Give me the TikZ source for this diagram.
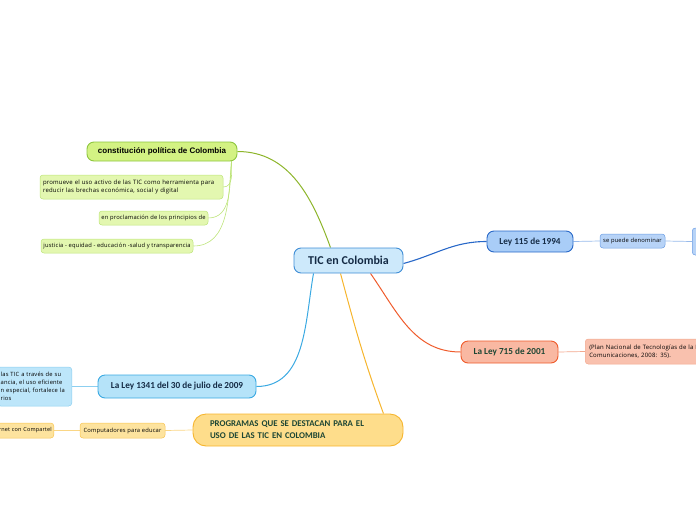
\documentclass[tikz,border=0pt]{standalone}
\usepackage{fontspec}
\setmainfont{Carlito}
\newfontfamily\arialfont{Liberation Sans}
\newfontfamily\smallfont[LetterSpace=3]{Open Sans}
\usetikzlibrary{backgrounds}

\definecolor{ticfill}{HTML}{CDE9FB}
\definecolor{ticline}{HTML}{3F8DD6}
\definecolor{tictext}{HTML}{152B45}
\definecolor{grnfill}{HTML}{D3F283}
\definecolor{grnline}{HTML}{8EC63F}
\definecolor{grnsub}{HTML}{E3F7B0}
\definecolor{grnsubline}{HTML}{BDE47A}
\definecolor{grnedge}{HTML}{8DB52B}
\definecolor{bluefill}{HTML}{A9CDF7}
\definecolor{blueline}{HTML}{2868C8}
\definecolor{bluesub}{HTML}{B7D3F7}
\definecolor{bluesubline}{HTML}{6B9DE3}
\definecolor{redfill}{HTML}{F9B8A2}
\definecolor{redline}{HTML}{EF5B2B}
\definecolor{redsub}{HTML}{F9C1AE}
\definecolor{redsubline}{HTML}{F3A88E}
\definecolor{cyanfill}{HTML}{B5E3F9}
\definecolor{cyanline}{HTML}{3AA9E2}
\definecolor{cyansub}{HTML}{BDE6FA}
\definecolor{cyansubline}{HTML}{8CCFF0}
\definecolor{yelfill}{HTML}{FEDD8B}
\definecolor{yelline}{HTML}{F6B52E}
\definecolor{yelsub}{HTML}{FDE39E}
\definecolor{yelsubline}{HTML}{F8C451}
\definecolor{progtext}{HTML}{1D4634}

\begin{document}
\begin{tikzpicture}[x=1pt,y=-1pt,
    topic/.style={rounded corners=7pt,line width=0.9pt,inner sep=0pt,
        font=\bfseries\fontsize{9.2}{10}\selectfont,text=tictext},
    sub/.style={rounded corners=3pt,line width=0.5pt,inner sep=0pt,
        font=\smallfont\fontsize{5.8}{8}\selectfont,text=black}]
    \useasboundingbox (0,0) rectangle (696,520);
    \clip (0,0) rectangle (696,520);

    \node[topic,fill=ticfill,draw=ticline,minimum width=109,minimum height=25,font=\bfseries\fontsize{12}{13}\selectfont] at (348.5,260.5) (tic) {TIC en Colombia};

    % constitucion
    \node[topic,fill=grnfill,draw=grnline,minimum width=150,minimum height=19,font=\arialfont\bfseries\fontsize{8}{9}\selectfont,text=black] at (162,151.5) (const) {constitución política de Colombia};
    \node[sub,fill=grnsub,draw=grnsubline,minimum width=183,minimum height=24,align=left,text width=177,font=\smallfont\fontsize{6}{8}\selectfont] at (131.5,187) (promueve) {promueve el uso activo de las TIC como herramienta para\\reducir las brechas económica, social y digital};
    \node[sub,fill=grnsub,draw=grnsubline,minimum width=109,minimum height=14] at (153.5,218) (proclama) {en proclamación de los principios de};
    \node[sub,fill=grnsub,draw=grnsubline,minimum width=152,minimum height=14] at (117,246) (justicia) {justicia - equidad - educación -salud y transparencia};

    % ley 115
    \node[topic,fill=bluefill,draw=blueline,minimum width=86,minimum height=21] at (530,241.5) (ley115) {Ley 115 de 1994};
    \node[sub,fill=bluesub,draw=bluesubline,minimum width=65,minimum height=14] at (632.5,241) (denominar) {se puede denominar};
    \node[sub,fill=bluesub,draw=bluesubline,minimum width=40,minimum height=27,anchor=west] at (692,241.5) (ley115end) {};

    % ley 715
    \node[topic,fill=redfill,draw=redline,minimum width=97,minimum height=22,text=progtext] at (509.5,352) (ley715) {La Ley 715 de 2001};
    \node[sub,fill=redsub,draw=redsubline,minimum height=25,anchor=west,align=left,text width=180,inner xsep=4pt,font=\smallfont\fontsize{6}{8}\selectfont] at (585,351.5) (plan) {(Plan Nacional de Tecnologías de la Información y las\\Comunicaciones, 2008: 35).};

    % ley 1341
    \node[topic,fill=cyanfill,draw=cyanline,minimum width=158,minimum height=23] at (177,386.5) (ley1341) {La Ley 1341 del 30 de julio de 2009};
    \node[sub,fill=cyansub,draw=cyansubline,minimum height=39,anchor=east,align=left,text width=68,inner xsep=3pt] at (72,386.5) (ley1341sub) {las TIC a través de su\\ancia, el uso eficiente\\n especial, fortalece la\\rios};

    % programas
    \node[topic,fill=yelfill,draw=yelline,rounded corners=13pt,minimum width=210,minimum height=32,align=left,text width=176,text=progtext,font=\bfseries\fontsize{8.8}{12}\selectfont] at (298,430) (prog) {PROGRAMAS QUE SE DESTACAN PARA EL\\USO DE LAS TIC EN COLOMBIA};
    \node[sub,fill=yelsub,draw=yelsubline,minimum width=85,minimum height=15] at (122.5,430.5) (compu) {Computadores para educar};
    \node[sub,fill=yelsub,draw=yelsubline,minimum height=15,anchor=east,align=right,text width=70,inner xsep=2pt,font=\smallfont\fontsize{5.5}{8}\selectfont] at (54,430.5) (compartel) {rnet con Compartel};

    \begin{scope}[on background layer]
        \draw[grnedge,line width=1pt] ([xshift=-18pt]tic.north) to[out=110,in=0] (const.east);
        \draw[grnsubline,line width=0.6pt] ([xshift=-6pt]const.south east) to[out=-90,in=0] (promueve.east);
        \draw[grnsubline,line width=0.6pt] ([xshift=-6pt]const.south east) to[out=-95,in=0] (proclama.east);
        \draw[grnsubline,line width=0.6pt] ([xshift=-6pt]const.south east) to[out=-95,in=0] (justicia.east);

        \draw[blueline,line width=1.1pt] ([yshift=-3pt]tic.east) to[out=15,in=180] (ley115.west);
        \draw[bluesubline!70,line width=0.7pt] (ley115.east) -- (denominar.west);
        \draw[bluesubline!70,line width=0.7pt] (denominar.east) -- (ley115end.west);

        \draw[redline,line width=1pt] ([xshift=22pt]tic.south) to[out=-55,in=180] (ley715.west);
        \draw[redsubline,line width=0.7pt] (ley715.east) -- (plan.west);

        \draw[cyanline,line width=1pt] ([xshift=-35pt]tic.south) to[out=-100,in=0] (ley1341.east);
        \draw[cyansubline,line width=0.7pt] (ley1341.west) -- (ley1341sub.east);

        \draw[yelline,line width=1pt] ([xshift=-8pt]tic.south) to[out=-75,in=110] ([xshift=-20pt]prog.north east);
        \draw[yelsubline!70,line width=0.7pt] (prog.west) -- (compu.east);
        \draw[yelsubline!70,line width=0.7pt] (compu.west) -- (compartel.east);
    \end{scope}
\end{tikzpicture}
\end{document}
